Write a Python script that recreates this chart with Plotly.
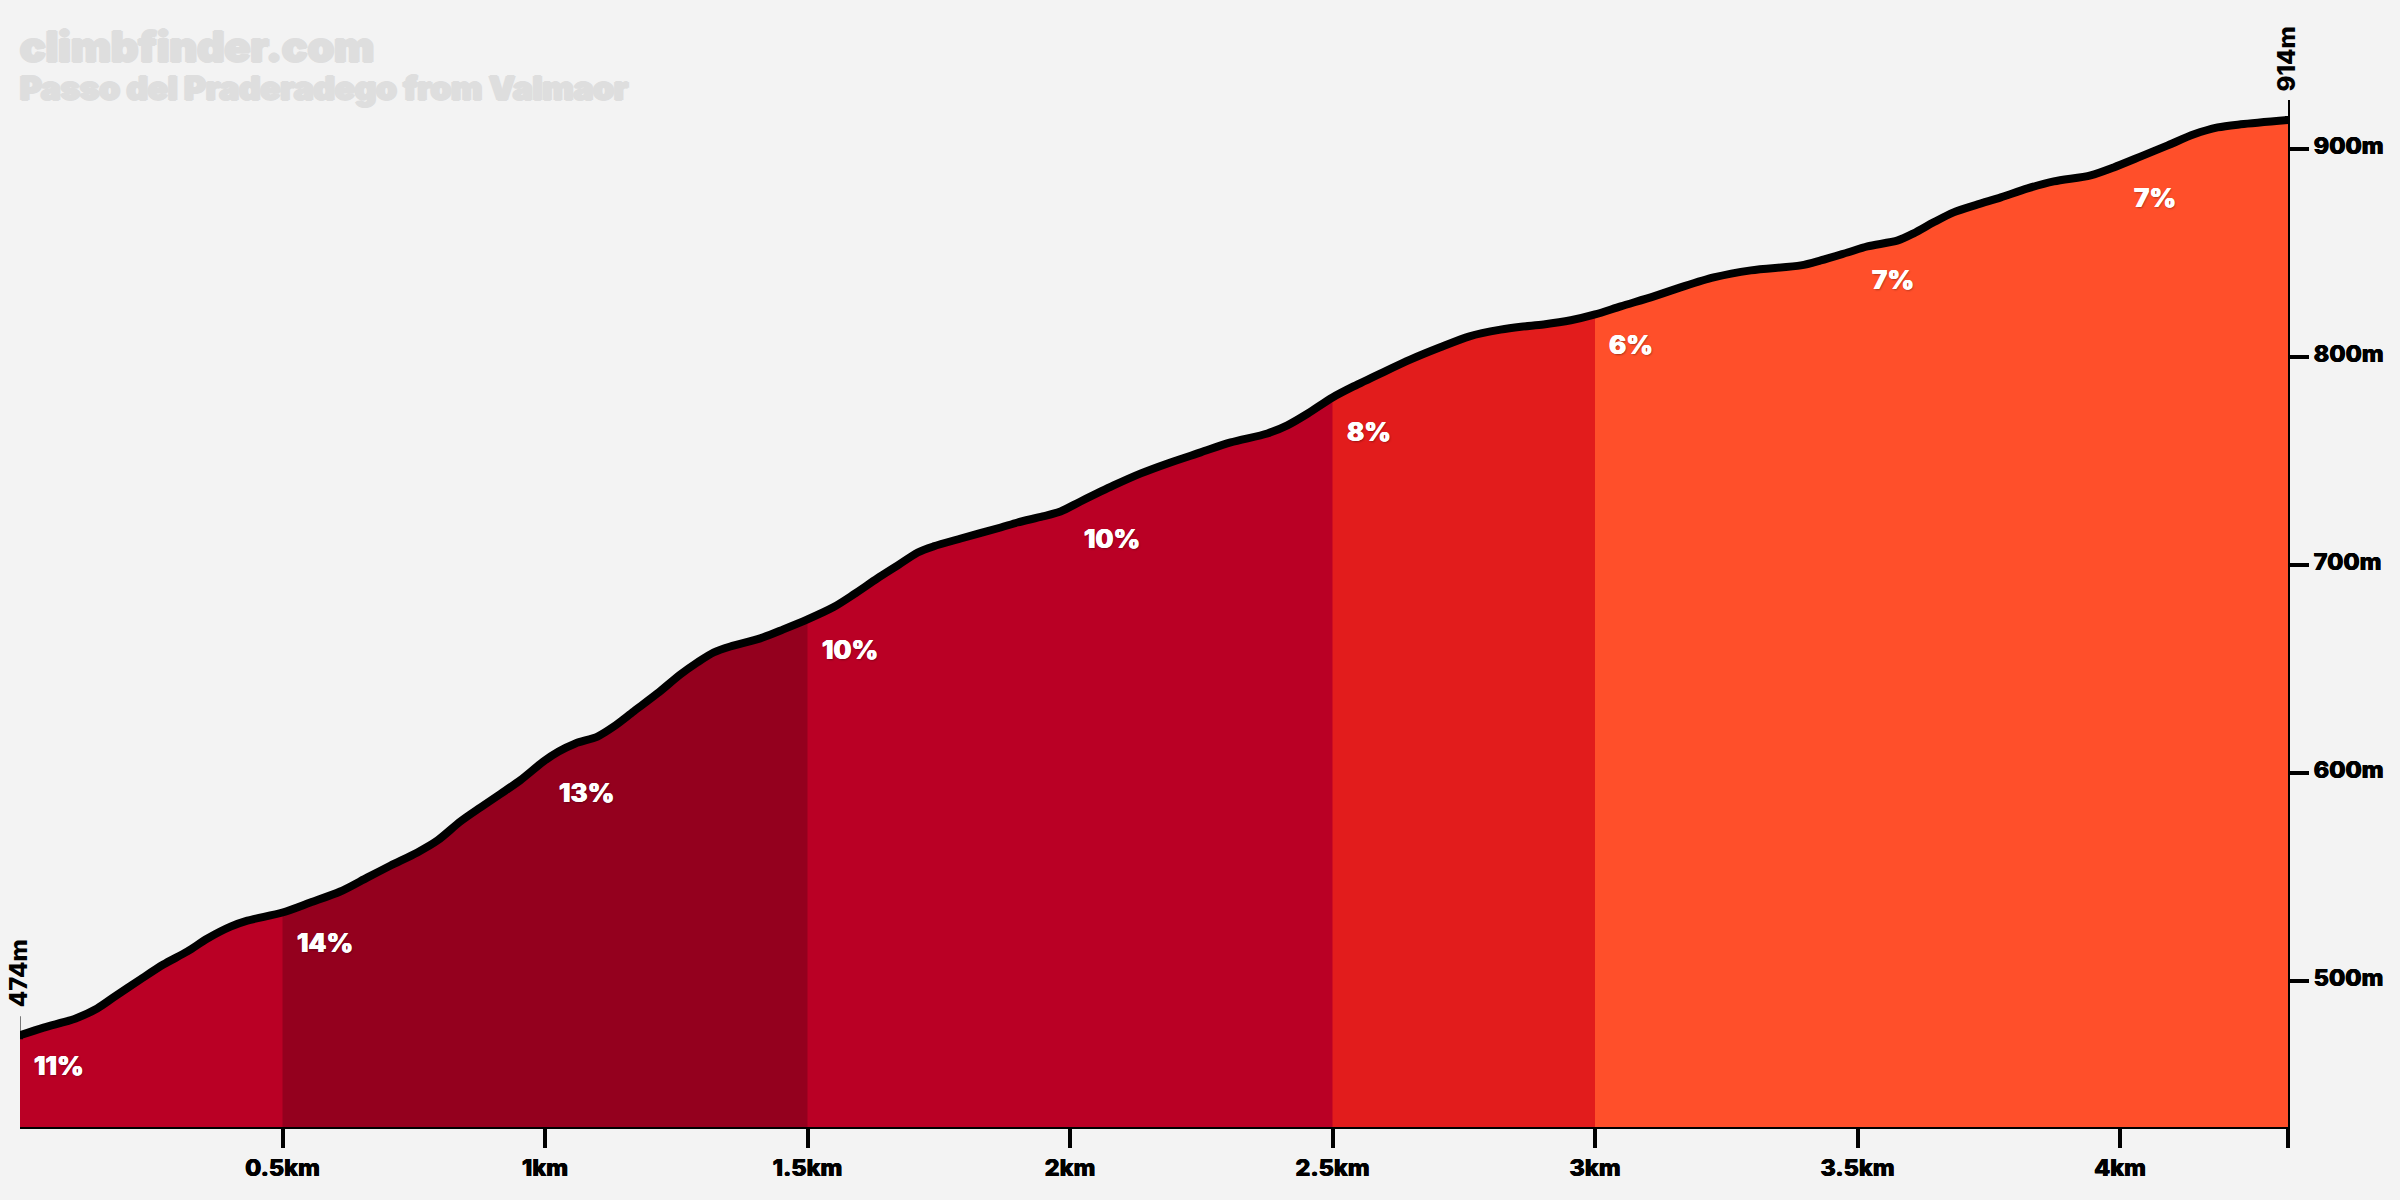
import numpy as np
import plotly.graph_objects as go

distance_km = [
    0, 0.045, 0.106, 0.147, 0.178, 0.229, 0.273, 0.319, 0.357, 0.401, 0.433, 0.5,
    0.553, 0.61, 0.662, 0.706, 0.757, 0.795, 0.839, 0.877, 0.915, 0.953, 0.997,
    1.026, 1.058, 1.1, 1.131, 1.169, 1.214, 1.258, 1.29, 1.321, 1.353, 1.41,
    1.454, 1.5, 1.549, 1.588, 1.633, 1.672, 1.71, 1.74, 1.792, 1.868, 1.9, 1.948,
    1.982, 2.02, 2.083, 2.135, 2.186, 2.249, 2.306, 2.376, 2.414, 2.453, 2.5,
    2.54, 2.592, 2.649, 2.704, 2.761, 2.82, 2.859, 2.902, 2.954, 3.0, 3.049,
    3.112, 3.163, 3.226, 3.297, 3.392, 3.43, 3.481, 3.519, 3.577, 3.607, 3.645,
    3.683, 3.729, 3.773, 3.824, 3.874, 3.944, 3.988, 4.04, 4.091, 4.141, 4.186,
    4.23, 4.32,
]
elevation_m = [
    474, 477.7, 482.1, 486.9, 492.2, 500.8, 508, 514.3, 520.5, 526.2, 529.1, 533,
    537.8, 543.1, 549.9, 555.6, 561.9, 567.6, 576.8, 583.5, 590, 596.6, 605.6,
    610.4, 614.3, 617.6, 622.4, 629.7, 638.3, 647.5, 653.2, 658, 660.9, 664.8,
    669.1, 673.9, 679.7, 685.9, 693.6, 699.9, 706.1, 709, 712.8, 718.1, 720.5,
    723.4, 725.8, 730.6, 738.3, 744.1, 748.9, 754.2, 759, 763.3, 767.2, 772.9,
    780.6, 785.9, 792.2, 798.9, 804.6, 810, 813.2, 814.6, 815.7, 817.7, 820.5,
    824.4, 829.2, 833.5, 838.3, 841.7, 844.1, 846.5, 850.3, 853.2, 856.1, 859.5,
    864.8, 869.6, 873.4, 876.8, 881.1, 884.5, 887.4, 891.2, 896.5, 901.8, 907.1,
    910.4, 911.9, 914,
]

segment_starts = [0, 0.5, 1.5, 2.5, 3.0]
segment_colors = ["#BA0025", "#94001E", "#BA0025", "#E21C1C", "#FF4F2A"]

grade_labels = ["11%", "14%", "13%", "10%", "10%", "8%", "6%", "7%", "7%"]
grade_km = [0, 0.5, 1, 1.5, 2, 2.5, 3, 3.5, 4]
grade_start_m = [474, 533, 605, 673.9, 727, 778.5, 820.5, 851.5, 891]

x_ticks = [0.5, 1, 1.5, 2, 2.5, 3, 3.5, 4, 4.32]
x_tick_labels = ["0.5km", "1km", "1.5km", "2km", "2.5km", "3km", "3.5km", "4km", ""]
y_ticks = [500, 600, 700, 800, 900]
y_tick_labels = ["500m", "600m", "700m", "800m", "900m"]

FONT = "Inter"
BACKGROUND = "#F3F3F3"
TITLE_GREY = "#DEDEDE"

km = np.array(distance_km)
ele = np.array(elevation_m)

fig = go.Figure()

# each block runs to the finish and the next one paints over it, so no seams show
for start, color in zip(segment_starts, segment_colors):
    mask = km >= start
    fig.add_trace(
        go.Scatter(
            x=km[mask],
            y=ele[mask],
            mode="lines",
            line={"width": 0},
            fill="tozeroy",
            fillcolor=color,
            hoverinfo="skip",
        )
    )

fig.add_trace(
    go.Scatter(
        x=km,
        y=ele,
        mode="lines",
        line={"color": "black", "width": 8, "shape": "spline", "smoothing": 0.8},
        hoverinfo="skip",
    )
)

for i, label in enumerate(grade_labels):
    fig.add_annotation(
        x=grade_km[i],
        y=grade_start_m[i],
        text=label,
        showarrow=False,
        xanchor="left",
        yanchor="middle",
        xshift=12,
        yshift=-30,
        font={
            "family": FONT,
            "size": 26,
            "weight": 800,
            "color": "white",
            "shadow": "0.6px 0 0 white, -0.4px 0 0 white, 1px 1px 2px rgba(0,0,0,0.35)",
        },
    )

# start and finish height markers
fig.add_shape(
    type="line",
    xref="x",
    yref="y",
    xsizemode="pixel",
    ysizemode="pixel",
    xanchor=distance_km[0],
    yanchor=elevation_m[0],
    x0=-1,
    x1=-1,
    y0=0,
    y1=19,
    line={"color": "black", "width": 3},
)
for x_val, y_val in [(distance_km[0], elevation_m[0]), (distance_km[-1], elevation_m[-1])]:
    fig.add_shape(
        type="rect",
        xref="x",
        yref="y",
        xsizemode="pixel",
        ysizemode="pixel",
        xanchor=x_val,
        yanchor=y_val,
        x0=-3,
        x1=3,
        y0=-4,
        y1=4,
        line={"width": 0},
        fillcolor="black",
    )
    fig.add_annotation(
        x=x_val,
        y=y_val,
        text=f"{y_val}m",
        showarrow=False,
        textangle=-90,
        xanchor="center",
        yanchor="bottom",
        xshift=-2,
        yshift=26,
        font={"family": FONT, "size": 24, "weight": 800, "color": "black"},
    )

title_shadow = (
    f"1.4px 0 0 {TITLE_GREY}, -1.4px 0 0 {TITLE_GREY}, 0 1.4px 0 {TITLE_GREY}, 0 -1.4px 0 {TITLE_GREY}"
)
fig.add_annotation(
    xref="paper",
    yref="paper",
    x=0,
    y=1,
    xanchor="left",
    yanchor="middle",
    xshift=-2,
    yshift=54,
    text="climbfinder.com",
    showarrow=False,
    font={"family": FONT, "size": 42.5, "weight": 900, "color": TITLE_GREY, "shadow": title_shadow},
)
fig.add_annotation(
    xref="paper",
    yref="paper",
    x=0,
    y=1,
    xanchor="left",
    yanchor="middle",
    xshift=-2,
    yshift=12,
    text="Passo del Praderadego from Valmaor",
    showarrow=False,
    font={"family": FONT, "size": 33, "weight": 900, "color": TITLE_GREY, "shadow": title_shadow},
)

tick_font = {
    "family": FONT,
    "size": 23.5,
    "weight": 800,
    "color": "black",
    "shadow": "0.4px 0 0 black, -0.4px 0 0 black",
}

# y range runs a little past the summit so the axis line doubles as the finish marker
fig.update_layout(
    width=2400,
    height=1200,
    autosize=False,
    showlegend=False,
    paper_bgcolor=BACKGROUND,
    plot_bgcolor=BACKGROUND,
    margin={"l": 20, "r": 112, "t": 100, "b": 73},
    xaxis={
        "range": [0, 4.32],
        "tickmode": "array",
        "tickvals": x_ticks,
        "ticktext": x_tick_labels,
        "ticks": "outside",
        "ticklen": 19,
        "tickwidth": 4,
        "tickcolor": "black",
        "showline": True,
        "linecolor": "black",
        "linewidth": 2,
        "showgrid": False,
        "zeroline": False,
        "tickfont": tick_font,
    },
    yaxis={
        "range": [429.9, 923.6],
        "side": "right",
        "tickmode": "array",
        "tickvals": y_ticks,
        "ticktext": y_tick_labels,
        "ticks": "outside",
        "ticklen": 19,
        "tickwidth": 4,
        "tickcolor": "black",
        "showline": True,
        "linecolor": "black",
        "linewidth": 2,
        "showgrid": False,
        "zeroline": False,
        "ticklabelshift": -3,
        "tickfont": tick_font,
    },
)

fig.write_html(
    "out.html",
    config={"displayModeBar": False},
    post_script="document.body.style.margin='0';document.body.style.overflow='hidden';",
)
